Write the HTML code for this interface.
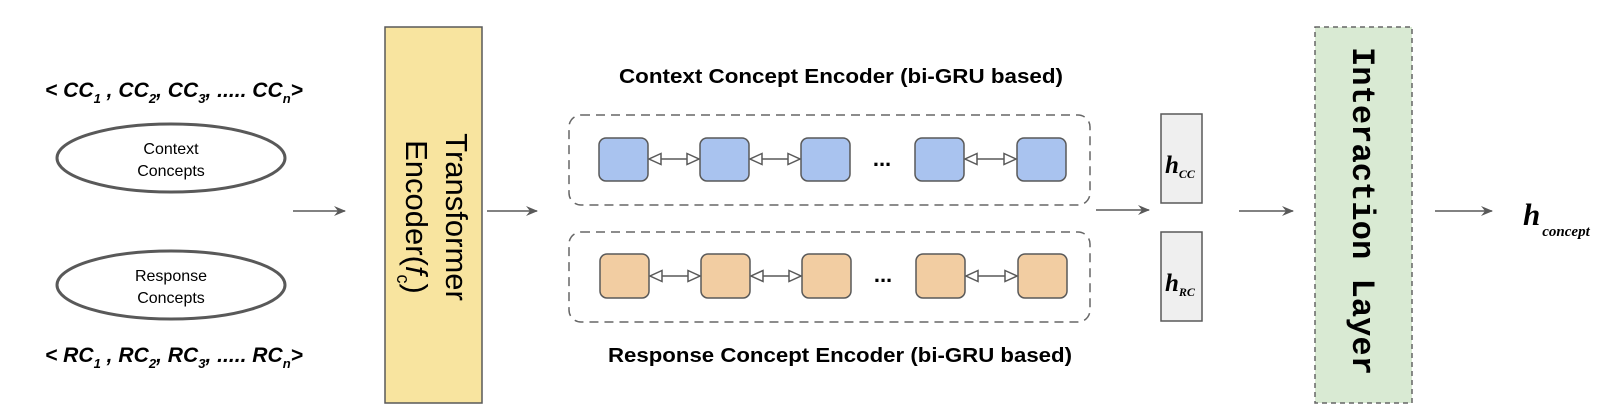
<!DOCTYPE html>
<html><head><meta charset="utf-8"><style>
html,body{margin:0;padding:0;background:#fff;}
svg{display:block;}
</style></head><body>
<svg width="1612" height="418" viewBox="0 0 1612 418" xmlns="http://www.w3.org/2000/svg">
<defs>
<marker id="ah" markerWidth="12" markerHeight="10" refX="11" refY="5" orient="auto" markerUnits="userSpaceOnUse">
<path d="M0,0 L12,5 L0,10 L4,5 Z" fill="#595959"/>
</marker>
<marker id="oh" markerWidth="14" markerHeight="14" refX="13" refY="7" orient="auto-start-reverse" markerUnits="userSpaceOnUse">
<path d="M1,1.5 L13,7 L1,12.5 Z" fill="#fff" stroke="#595959" stroke-width="1.5"/>
</marker>
</defs>
<g font-family="Liberation Sans, sans-serif">
<text x="45" y="97" font-size="21" font-weight="bold" font-style="italic" textLength="258" lengthAdjust="spacingAndGlyphs">&lt; CC<tspan font-size="13" dy="6">1</tspan><tspan dy="-6"> , CC</tspan><tspan font-size="13" dy="6">2</tspan><tspan dy="-6">, CC</tspan><tspan font-size="13" dy="6">3</tspan><tspan dy="-6">, ..... CC</tspan><tspan font-size="13" dy="6">n</tspan><tspan dy="-6">&gt;</tspan></text>
<text x="45" y="362" font-size="21" font-weight="bold" font-style="italic" textLength="258" lengthAdjust="spacingAndGlyphs">&lt; RC<tspan font-size="13" dy="6">1</tspan><tspan dy="-6"> , RC</tspan><tspan font-size="13" dy="6">2</tspan><tspan dy="-6">, RC</tspan><tspan font-size="13" dy="6">3</tspan><tspan dy="-6">, ..... RC</tspan><tspan font-size="13" dy="6">n</tspan><tspan dy="-6">&gt;</tspan></text>
<ellipse cx="171" cy="158" rx="114" ry="34" fill="#fff" stroke="#595959" stroke-width="3"/>
<text x="171" y="154" font-size="16" text-anchor="middle">Context</text>
<text x="171" y="176" font-size="16" text-anchor="middle">Concepts</text>
<ellipse cx="171" cy="285" rx="114" ry="34" fill="#fff" stroke="#595959" stroke-width="3"/>
<text x="171" y="281" font-size="16" text-anchor="middle">Response</text>
<text x="171" y="303" font-size="16" text-anchor="middle">Concepts</text>
<line x1="293" y1="211" x2="345" y2="211" stroke="#595959" stroke-width="1.5" marker-end="url(#ah)"/>
<rect x="385" y="27" width="97" height="376" fill="#f8e49f" stroke="#595959" stroke-width="1.5"/>
<g transform="translate(446,217) rotate(90)"><text x="0" y="0" font-size="31" text-anchor="middle">Transformer</text></g>
<g transform="translate(406,217) rotate(90)"><text x="0" y="0" font-size="31" text-anchor="middle">Encoder(<tspan font-style="italic">f</tspan><tspan font-size="18" dy="9">c</tspan><tspan dy="-9">)</tspan></text></g>
<line x1="487" y1="211" x2="537" y2="211" stroke="#595959" stroke-width="1.5" marker-end="url(#ah)"/>
<text x="619" y="83" font-size="20" font-weight="bold" textLength="444" lengthAdjust="spacingAndGlyphs">Context Concept Encoder (bi-GRU based)</text>
<text x="608" y="362" font-size="20" font-weight="bold" textLength="464" lengthAdjust="spacingAndGlyphs">Response Concept Encoder (bi-GRU based)</text>
<rect x="569" y="115" width="521" height="90" rx="12" fill="none" stroke="#666" stroke-width="1.5" stroke-dasharray="9,6"/>
<rect x="569" y="232" width="521" height="90" rx="12" fill="none" stroke="#666" stroke-width="1.5" stroke-dasharray="9,6"/>
<g fill="#a9c3ef" stroke="#595959" stroke-width="1.5">
<rect x="599" y="138" width="49" height="43" rx="7"/>
<rect x="700" y="138" width="49" height="43" rx="7"/>
<rect x="801" y="138" width="49" height="43" rx="7"/>
<rect x="915" y="138" width="49" height="43" rx="7"/>
<rect x="1017" y="138" width="49" height="43" rx="7"/>
</g>
<g fill="#f2cda2" stroke="#595959" stroke-width="1.5">
<rect x="600" y="254" width="49" height="44" rx="7"/>
<rect x="701" y="254" width="49" height="44" rx="7"/>
<rect x="802" y="254" width="49" height="44" rx="7"/>
<rect x="916" y="254" width="49" height="44" rx="7"/>
<rect x="1018" y="254" width="49" height="44" rx="7"/>
</g>
<g stroke="#595959" stroke-width="1.5" marker-start="url(#oh)" marker-end="url(#oh)">
<line x1="649" y1="159" x2="699" y2="159"/>
<line x1="750" y1="159" x2="800" y2="159"/>
<line x1="965" y1="159" x2="1016" y2="159"/>
<line x1="650" y1="276" x2="700" y2="276"/>
<line x1="751" y1="276" x2="801" y2="276"/>
<line x1="966" y1="276" x2="1017" y2="276"/>
</g>
<text x="882" y="166" font-size="22" font-weight="bold" text-anchor="middle">...</text>
<text x="883" y="282" font-size="22" font-weight="bold" text-anchor="middle">...</text>
<line x1="1096" y1="210" x2="1149" y2="210" stroke="#595959" stroke-width="1.5" marker-end="url(#ah)"/>
<rect x="1161" y="114" width="41" height="89" fill="#efefef" stroke="#595959" stroke-width="1.5"/>
<rect x="1161" y="232" width="41" height="89" fill="#efefef" stroke="#595959" stroke-width="1.5"/>
<g font-family="Liberation Serif, serif" font-weight="bold" font-style="italic">
<text x="1165" y="173" font-size="25">h<tspan font-size="12" dy="5">CC</tspan></text>
<text x="1165" y="291" font-size="25">h<tspan font-size="12" dy="5">RC</tspan></text>
<text x="1523" y="225" font-size="31">h<tspan font-size="15" dx="2" dy="11">concept</tspan></text>
</g>
<line x1="1239" y1="211" x2="1293" y2="211" stroke="#595959" stroke-width="1.5" marker-end="url(#ah)"/>
<rect x="1315" y="27" width="97" height="376" fill="#d9ead3" stroke="#666" stroke-width="1.5" stroke-dasharray="5,4"/>
<g transform="translate(1353,211) rotate(90)"><text x="0" y="0" font-family="Liberation Mono, monospace" font-size="32" font-weight="bold" text-anchor="middle" textLength="328" lengthAdjust="spacingAndGlyphs">Interaction Layer</text></g>
<line x1="1435" y1="211" x2="1492" y2="211" stroke="#595959" stroke-width="1.5" marker-end="url(#ah)"/>
</g>
</svg>
</body></html>
